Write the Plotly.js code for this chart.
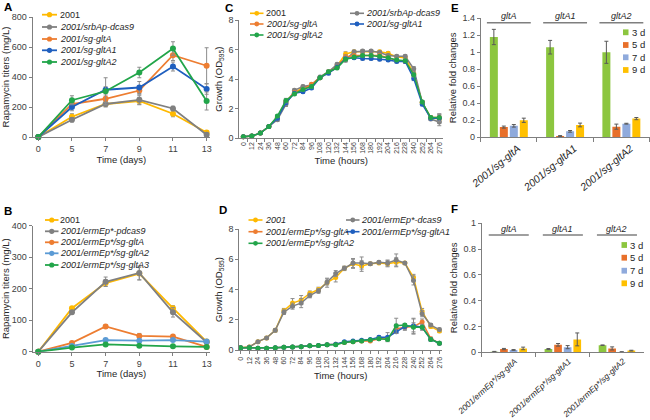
<!DOCTYPE html>
<html><head><meta charset="utf-8">
<script src="https://cdn.plot.ly/plotly-3.0.1.min.js"></script>
<style>html,body{margin:0;padding:0;background:#fff}#chart{width:650px;height:420px}</style>
</head><body><div id="chart"></div>
<script>
// ---------- DATA ----------
const daysCat = ['0','5','7','9','11','13'];
const hoursCat = ['0','12','24','36','48','60','72','84','96','108','120','132','144','156','168','180','192','204','216','228','240','252','264','276'];

// Panel A
const namesA = ['2001','<i>2001/srbAp-dcas9</i>','<i>2001/sg-gltA</i>','<i>2001/sg-gltA1</i>','<i>2001/sg-gltA2</i>'];
const A_2001 = [0,135,220,240,155,30];
const A_2001_err = [0,20,15,25,20,10];
const A_dcas9 = [0,115,220,248,190,15];
const A_dcas9_err = [0,15,20,30,15,10];
const A_gltA = [0,220,255,310,545,475];
const A_gltA_err = [0,20,25,25,35,120];
const A_gltA1 = [0,200,315,330,470,320];
const A_gltA1_err = [0,25,20,40,30,35];
const A_gltA2 = [0,245,305,430,590,240];
const A_gltA2_err = [0,30,90,35,45,60];

// Panel B
const namesB = ['2001','<i>2001/ermEp*-pdcas9</i>','<i>2001/ermEp*/sg-gltA</i>','<i>2001/ermEp*/sg-gltA2</i>','<i>2001/ermEp*/sg-gltA3</i>'];
const B_2001 = [0,138,218,248,138,32];
const B_2001_err = [0,5,10,20,8,4];
const B_dcas9 = [0,125,222,250,125,30];
const B_dcas9_err = [0,5,15,22,15,4];
const B_gltA = [0,28,80,50,48,15];
const B_gltA_err = [0,4,5,8,6,3];
const B_gltA2 = [0,18,37,35,37,32];
const B_gltA2_err = [0,3,5,4,4,4];
const B_gltA3 = [0,13,23,19,17,15];
const B_gltA3_err = [0,3,3,3,3,3];

// Panel C
const namesC = ['2001','<i>2001/srbAp-dcas9</i>','<i>2001/sg-gltA</i>','<i>2001/sg-gltA1</i>','<i>2001/sg-gltA2</i>'];
const C_2001  = [0.1,0.15,0.35,0.8,1.4,2.4,3.1,3.4,3.6,4.1,4.5,4.9,5.7,5.85,5.85,5.85,5.85,5.75,5.5,5.45,4.4,2.4,1.4,1.3];
const C_dcas9 = [0.1,0.15,0.35,0.8,1.25,2.3,3.25,3.5,3.6,4.15,4.5,5.0,5.3,5.85,5.9,5.9,5.8,5.6,5.55,5.55,4.7,2.45,1.3,1.1];
const C_gltA  = [0.1,0.15,0.35,0.8,1.4,2.5,3.1,3.3,3.65,4.1,4.45,4.8,5.5,5.6,5.6,5.6,5.6,5.45,5.25,5.2,4.3,2.4,1.4,1.4];
const C_gltA1 = [0.1,0.15,0.35,0.8,1.35,2.4,3.05,3.15,3.4,4.1,4.4,4.8,5.4,5.45,5.4,5.4,5.35,5.3,5.2,5.2,4.05,2.3,1.35,1.35];
const C_gltA2 = [0.1,0.15,0.35,0.8,1.5,2.55,3.0,3.3,3.5,4.1,4.5,4.75,5.35,5.5,5.6,5.6,5.55,5.45,5.3,5.25,4.3,2.45,1.4,1.4];
const C_err   = [0.05,0.05,0.05,0.05,0.1,0.15,0.1,0.1,0.1,0.1,0.1,0.1,0.15,0.1,0.1,0.1,0.1,0.1,0.1,0.1,0.15,0.1,0.1,0.25];

// Panel D
const namesD = ['<i>2001</i>','<i>2001/ermEp*-dcas9</i>','<i>2001/ermEp*/sg-gltA</i>','<i>2001/ermEp*/sg-gltA1</i>','<i>2001/ermEp*/sg-gltA2</i>'];
const D_2001  = [0.15,0.2,0.55,0.8,1.3,2.6,3.1,3.3,3.75,4.0,4.45,4.8,5.4,5.7,5.55,5.7,5.75,5.7,5.8,5.75,4.8,2.55,1.55,1.25];
const D_2001_err = [0.05,0.05,0.05,0.05,0.1,0.15,0.3,0.3,0.15,0.15,0.3,0.3,0.15,0.3,0.35,0.1,0.1,0.2,0.3,0.1,0.2,0.2,0.1,0.1];
const D_dcas9 = [0.15,0.2,0.55,0.8,1.3,2.5,2.9,3.1,3.6,3.9,4.5,5.05,5.4,5.75,5.75,5.7,5.8,5.75,5.95,5.75,4.6,2.4,1.65,1.35];
const D_dcas9_err = [0.05,0.05,0.05,0.05,0.1,0.15,0.2,0.3,0.15,0.15,0.2,0.2,0.1,0.3,0.4,0.1,0.1,0.2,0.4,0.1,0.3,0.2,0.1,0.1];
const D_gltA  = [0.15,0.15,0.12,0.12,0.15,0.18,0.2,0.22,0.28,0.3,0.35,0.38,0.5,0.55,0.6,0.6,0.75,0.75,1.4,1.5,1.55,1.85,0.75,0.45];
const D_gltA_err = [0.03,0.03,0.03,0.03,0.03,0.03,0.03,0.03,0.03,0.05,0.05,0.05,0.05,0.05,0.05,0.05,0.1,0.1,0.3,0.2,0.5,0.2,0.1,0.05];
const D_gltA1 = [0.15,0.15,0.12,0.12,0.15,0.18,0.2,0.22,0.28,0.3,0.35,0.38,0.55,0.6,0.65,0.7,0.85,0.85,1.2,1.55,1.6,1.5,0.7,0.45];
const D_gltA1_err = [0.03,0.03,0.03,0.03,0.03,0.03,0.03,0.03,0.03,0.05,0.05,0.05,0.05,0.05,0.05,0.05,0.1,0.3,0.1,0.2,0.5,0.2,0.1,0.05];
const D_gltA2 = [0.15,0.15,0.12,0.12,0.15,0.18,0.2,0.22,0.28,0.3,0.35,0.35,0.5,0.55,0.6,0.66,0.75,0.7,1.6,1.65,1.5,1.5,0.7,0.45];
const D_gltA2_err = [0.03,0.03,0.03,0.03,0.03,0.03,0.03,0.03,0.03,0.05,0.05,0.05,0.05,0.05,0.05,0.05,0.1,0.1,0.5,0.1,0.3,0.1,0.1,0.05];

// Panels E, F
const genes = ['gltA','gltA1','gltA2'];
const catsE = ['2001/sg-gltA','2001/sg-gltA1','2001/sg-gltA2'];
const catsF = ['2001/ermEp*/sg-gltA','2001/ermEp*/sg-gltA1','2001/ermEp*/sg-gltA2'];
const dayNames = ['3 d','5 d','7 d','9 d'];
const E_3d = [1.18,1.06,1.0];   const E_3d_err = [0.09,0.08,0.13];
const E_5d = [0.12,0.015,0.125]; const E_5d_err = [0.012,0.005,0.03];
const E_7d = [0.135,0.07,0.16];  const E_7d_err = [0.015,0.01,0.005];
const E_9d = [0.20,0.145,0.22];  const E_9d_err = [0.025,0.022,0.013];
const F_3d = [0.005,0.025,0.055]; const F_3d_err = [0.002,0.004,0.002];
const F_5d = [0.025,0.058,0.03];  const F_5d_err = [0.005,0.01,0.012];
const F_7d = [0.018,0.04,0.003];  const F_7d_err = [0.003,0.012,0.001];
const F_9d = [0.03,0.10,0.013];   const F_9d_err = [0.01,0.05,0.003];

// ---------- STYLE ----------
const W = 650, H = 420;
const X = p => p / W, Y = p => 1 - p / H;
const cYellow = '#FFB900', cGray = '#808080', cOrange = '#ED7D31', cBlue = '#1F5FBF', cLBlue = '#5B9BD5', cGreen = '#22A54A';
const barCols = ['#8CC63F', '#E8702A', '#8FAADC', '#FFC000'];
const errCol = '#8C8C8C';
const font = 'Liberation Sans, Arial, sans-serif';

const traces = [];
function lineSeries(xc, ys, errs, color, ax, lw, ms) {
  ys.forEach((y, i) => {
    traces.push({type:'scatter', mode:'lines+markers', x:xc, y:y, xaxis:'x'+ax, yaxis:'y'+ax,
      line:{color:color[i], width:lw}, marker:{color:color[i], size:ms},
      error_y:{type:'data', array:errs[i], color:errCol, thickness:1, width:2},
      showlegend:false, cliponaxis:false, hoverinfo:'x+y'});
  });
}
const colA = [cYellow,cGray,cOrange,cBlue,cGreen];
const colB = [cYellow,cGray,cOrange,cLBlue,cGreen];
lineSeries(daysCat,[A_2001,A_dcas9,A_gltA,A_gltA1,A_gltA2],[A_2001_err,A_dcas9_err,A_gltA_err,A_gltA1_err,A_gltA2_err],colA,'',1.8,6);
lineSeries(daysCat,[B_2001,B_dcas9,B_gltA,B_gltA2,B_gltA3],[B_2001_err,B_dcas9_err,B_gltA_err,B_gltA2_err,B_gltA3_err],colB,'2',1.8,6);
lineSeries(hoursCat,[C_2001,C_dcas9,C_gltA,C_gltA1,C_gltA2],[C_err,C_err,C_err,C_err,C_err],colA,'3',1.5,5);
lineSeries(hoursCat,[D_2001,D_dcas9,D_gltA,D_gltA1,D_gltA2],[D_2001_err,D_dcas9_err,D_gltA_err,D_gltA1_err,D_gltA2_err],colA,'4',1.5,5);

function barSeries(cats, ys, errs, ax) {
  ys.forEach((y, i) => {
    traces.push({type:'bar', x:cats, y:y, name:dayNames[i], xaxis:'x'+ax, yaxis:'y'+ax,
      marker:{color:barCols[i], line:{width:0}},
      error_y:{type:'data', array:errs[i], color:'#595959', thickness:1, width:2},
      showlegend:false});
  });
}
barSeries(catsE,[E_3d,E_5d,E_7d,E_9d],[E_3d_err,E_5d_err,E_7d_err,E_9d_err],'5');
barSeries(catsF,[F_3d,F_5d,F_7d,F_9d],[F_3d_err,F_5d_err,F_7d_err,F_9d_err],'6');

const axBase = {showline:true, linecolor:'#7F7F7F', linewidth:1, ticks:'outside', ticklen:3, tickcolor:'#7F7F7F',
  tickfont:{size:9, color:'#404040', family:font}, showgrid:false, zeroline:false, fixedrange:true};
const titleFont = {size:9.5, color:'#262626', family:font};
function ax(o) { return Object.assign({}, axBase, o); }

const layout = {
  width:W, height:H, margin:{l:0,r:0,t:0,b:0}, paper_bgcolor:'#fff', plot_bgcolor:'rgba(0,0,0,0)',
  font:{family:font, color:'#262626'}, showlegend:false, barmode:'group', bargap:0.29, bargroupgap:0.2,
  // A
  xaxis: ax({domain:[X(32.7),X(210)], anchor:'y', type:'category', range:[-0.166,5.1], title:{text:'Time (days)', font:titleFont, standoff:1}}),
  yaxis: ax({domain:[Y(137),Y(17)], anchor:'x', range:[0,800], dtick:200, title:{text:'Rapamycin titers (mg/L)', font:titleFont, standoff:4}}),
  // B
  xaxis2: ax({domain:[X(32.7),X(210)], anchor:'y2', type:'category', range:[-0.166,5.1], title:{text:'Time (days)', font:titleFont, standoff:1}}),
  yaxis2: ax({domain:[Y(351.7),Y(225.7)], anchor:'x2', range:[0,400], dtick:100, title:{text:'Rapamycin titers (mg/L)', font:titleFont, standoff:4}}),
  // C
  xaxis3: ax({domain:[X(239.3),X(443.3)], anchor:'y3', type:'category', range:[-0.47,23.47], tickangle:-90, tickson:'boundaries',
    tickfont:{size:7, color:'#404040', family:font}, title:{text:'Time (hours)', font:titleFont, standoff:4}}),
  yaxis3: ax({domain:[Y(138.3),Y(20)], anchor:'x3', range:[0,8], dtick:2, title:{text:'Growth (OD<sub>595</sub>)', font:titleFont, standoff:4}}),
  // D
  xaxis4: ax({domain:[X(239.3),X(442)], anchor:'y4', type:'category', range:[-0.16,23.3], tickangle:-90,
    tickfont:{size:7, color:'#404040', family:font}, title:{text:'Time (hours)', font:titleFont, standoff:4}}),
  yaxis4: ax({domain:[Y(350),Y(229)], anchor:'x4', range:[0,8], dtick:2, title:{text:'Growth (OD<sub>595</sub>)', font:titleFont, standoff:4}}),
  // E
  xaxis5: ax({domain:[X(480.7),X(649.5)], anchor:'y5', type:'category', range:[-0.5,2.5], tickson:'boundaries', ticklen:4, tickangle:-40,
    ticklabelshift:9, tickfont:{size:10.5, color:'#262626', family:font, style:'italic'}}),
  yaxis5: ax({domain:[Y(137.3),Y(18.3)], anchor:'x5', range:[0,1.4], dtick:0.2, title:{text:'Relative fold changes', font:titleFont, standoff:4}}),
  // F
  xaxis6: ax({domain:[X(481.7),X(644)], anchor:'y6', type:'category', range:[-0.5,2.5], tickson:'boundaries', ticklen:4, tickangle:-43,
    ticklabelshift:6, tickfont:{size:8.3, color:'#262626', family:font, style:'italic'}}),
  yaxis6: ax({domain:[Y(352.3),Y(223.3)], anchor:'x6', range:[0,1], dtick:0.2, title:{text:'Relative fold changes', font:titleFont, standoff:4}}),
  shapes: [], annotations: []
};
const shapes = layout.shapes, annotations = layout.annotations;

// panel letters
[['A',8,7],['B',8,211],['C',229,8],['D',223,210],['E',455,8],['F',454,209]].forEach(([t,x,y]) => {
  annotations.push({xref:'paper', yref:'paper', x:X(x), y:Y(y), xanchor:'center', yanchor:'middle', showarrow:false,
    text:'<b>'+t+'</b>', font:{size:11.5, color:'#000', family:font}});
});

// line-chart legends (drawn as keys)
function lineLegend(names, cols, x0, x1, tx, ys, lw, r) {
  names.forEach((n, i) => {
    const y = ys[i];
    shapes.push({type:'line', xref:'paper', yref:'paper', x0:X(x0), x1:X(x1), y0:Y(y), y1:Y(y), line:{color:cols[i], width:lw}});
    const cx = (x0 + x1) / 2;
    shapes.push({type:'circle', xref:'paper', yref:'paper', x0:X(cx-r), x1:X(cx+r), y0:Y(y+r), y1:Y(y-r), fillcolor:cols[i], line:{width:0}});
    annotations.push({xref:'paper', yref:'paper', x:X(tx), y:Y(y), xanchor:'left', yanchor:'middle', showarrow:false,
      text:n, font:{size:9, color:'#262626', family:font}, borderpad:0});
  });
}
lineLegend(namesA, colA, 42, 57, 58.5, [14.7,27,39,50.3,62], 1.8, 2.6);
lineLegend(namesB, colB, 45, 58.5, 58.5, [220,231.3,242.3,253.3,265], 1.8, 2.6);
lineLegend([namesC[0],namesC[2],namesC[4]], [colA[0],colA[2],colA[4]], 250, 263.5, 265, [13.3,24,35], 1.6, 2.4);
lineLegend([namesC[1],namesC[3]], [colA[1],colA[3]], 350, 364, 365, [13.3,24], 1.6, 2.4);
lineLegend([namesD[0],namesD[2],namesD[4]], [colA[0],colA[2],colA[4]], 248.5, 262.5, 263.5, [220,231.7,243.3], 1.6, 2.4);
lineLegend([namesD[1],namesD[3]], [colA[1],colA[3]], 346, 359.5, 360, [220,231.7], 1.6, 2.4);

// bar legends
function barLegend(sx, tx, ys) {
  dayNames.forEach((n, i) => {
    shapes.push({type:'rect', xref:'paper', yref:'paper', x0:X(sx), x1:X(sx+5.5), y0:Y(ys[i]+2.9), y1:Y(ys[i]-2.9), fillcolor:barCols[i], line:{width:0}});
    annotations.push({xref:'paper', yref:'paper', x:X(tx), y:Y(ys[i]), xanchor:'left', yanchor:'middle', showarrow:false,
      text:n, font:{size:9.5, color:'#262626', family:font}, borderpad:0});
  });
}
barLegend(623, 630.5, [32.3,45,57.3,70]);
barLegend(621.5, 629, [245,257.7,270.7,283.3]);

// gene group headers
function headers(axn, lineY, textY, half) {
  genes.forEach((g, i) => {
    shapes.push({type:'line', xref:'x'+axn, yref:'paper', x0:i-half, x1:i+half, y0:Y(lineY), y1:Y(lineY), line:{color:'#7F7F7F', width:1.5}});
    annotations.push({xref:'x'+axn, yref:'paper', x:i, y:Y(textY), xanchor:'center', yanchor:'middle', showarrow:false,
      text:'<i>'+g+'</i>', font:{size:9, color:'#262626', family:font}});
  });
}
headers('5', 22.7, 16.5, 0.39);
headers('6', 235, 229.5, 0.37);

Plotly.newPlot('chart', traces, layout, {displayModeBar:false, staticPlot:true});
</script>
</body></html>
